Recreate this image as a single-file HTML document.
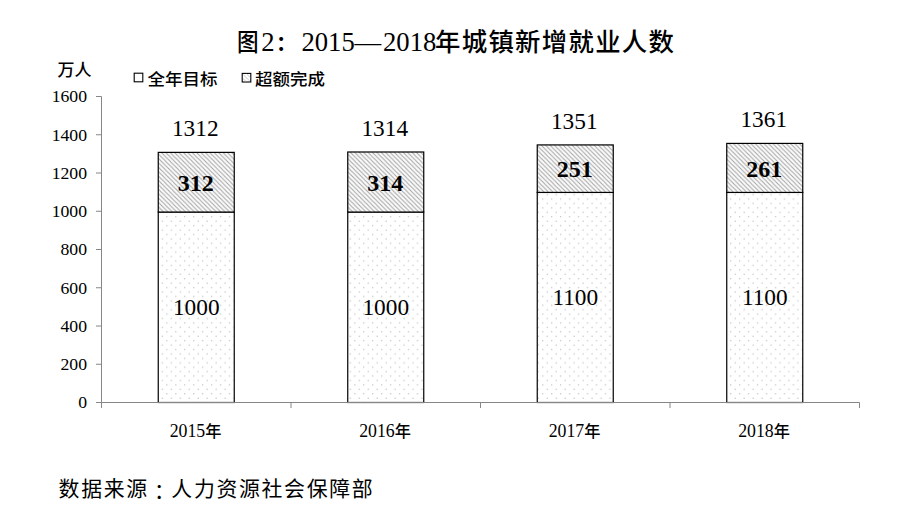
<!DOCTYPE html>
<html lang="zh-CN"><head><meta charset="utf-8"><title>图2：2015—2018年城镇新增就业人数</title>
<style>
html,body{margin:0;padding:0;background:#fff;}
body{width:900px;height:518px;overflow:hidden;position:relative;}
svg{position:absolute;left:0;top:0;display:block;}
text{fill:#000;}
.num{font-family:"Liberation Serif","Noto Sans CJK SC",serif;}
.hei{font-family:"Liberation Sans","Noto Sans CJK SC",sans-serif;}
.tc{font-family:"Liberation Sans","Noto Sans CJK TC",sans-serif;}
.ttl{font-family:"Liberation Serif","Noto Sans CJK SC",sans-serif;}
</style></head><body>
<svg width="900" height="518" viewBox="0 0 900 518">
<defs>
<pattern id="dots" width="8.95" height="8.85" patternUnits="userSpaceOnUse" x="160.2" y="342.9">
<rect width="8.95" height="8.85" fill="#fff"/>
<rect x="1.65" y="1.65" width="1.1" height="1.1" fill="#b4b4b4"/>
<rect x="6.13" y="6.07" width="1.1" height="1.1" fill="#b4b4b4"/>
</pattern>
<pattern id="hatch" width="4.4" height="4.4" patternUnits="userSpaceOnUse">
<rect width="4.4" height="4.4" fill="#fbfbfb"/>
<path d="M-1.1,-1.1 L5.5,5.5 M-1.1,3.3 L1.1,5.5 M3.3,-1.1 L5.5,1.1" stroke="#a4a4a4" stroke-width="1.05" fill="none"/>
</pattern>
</defs>

<text class="ttl" y="50.8" font-size="26.67"><tspan x="237" font-size="24.6" font-weight="500" textLength="21.6" lengthAdjust="spacingAndGlyphs">图</tspan><tspan x="261.3">2</tspan><tspan x="276.1" font-size="20.6" font-weight="700" dy="0.45">：</tspan><tspan x="301.4" dy="-0.45">2015</tspan><tspan x="354.6">—</tspan><tspan x="383">2018</tspan><tspan x="435" font-size="25.4" font-weight="500" letter-spacing="1.3">年城镇新增就业人数</tspan></text>
<text class="hei" x="57.6" y="76.2" font-size="16.6" font-weight="500" textLength="34" lengthAdjust="spacingAndGlyphs">万人</text>
<rect x="134.2" y="73.2" width="8.6" height="8.6" fill="#fff" stroke="#000" stroke-width="1.1"/>
<text class="hei" x="147.6" y="85" font-size="16" font-weight="500" textLength="70" lengthAdjust="spacingAndGlyphs">全年目标</text>
<rect x="242.2" y="73.4" width="8.6" height="8.6" fill="#fff" stroke="#000" stroke-width="1.1"/>
<path d="M243.2,74.6 L249.8,81.0 M243.0,78.6 L246.0,81.4 M246.8,74.2 L250.2,77.4" stroke="#c4c4c4" stroke-width="0.9" fill="none"/>
<text class="hei" x="255.1" y="85" font-size="16" font-weight="500" textLength="70" lengthAdjust="spacingAndGlyphs">超额完成</text>
<rect x="158.25" y="212.05" width="76" height="190.45" fill="url(#dots)" stroke="#000" stroke-width="1.2"/>
<rect x="158.25" y="152.38" width="76" height="59.67" fill="url(#hatch)" stroke="#000" stroke-width="1.2"/>
<text class="num" x="196.25" y="315.17" font-size="23.3" text-anchor="middle">1000</text>
<text class="num" x="195.75" y="190.81" font-size="24" font-weight="700" text-anchor="middle">312</text>
<text class="num" x="195.25" y="136.28" font-size="23.3" text-anchor="middle">1312</text>
<text class="num" x="195.55" y="437" font-size="17.8" text-anchor="middle">2015<tspan class="hei" font-size="16.2" font-weight="500">年</tspan></text>
<rect x="347.75" y="212.05" width="76" height="190.45" fill="url(#dots)" stroke="#000" stroke-width="1.2"/>
<rect x="347.75" y="152.00" width="76" height="60.05" fill="url(#hatch)" stroke="#000" stroke-width="1.2"/>
<text class="num" x="385.75" y="315.17" font-size="23.3" text-anchor="middle">1000</text>
<text class="num" x="385.25" y="190.62" font-size="24" font-weight="700" text-anchor="middle">314</text>
<text class="num" x="384.75" y="135.90" font-size="23.3" text-anchor="middle">1314</text>
<text class="num" x="385.05" y="437" font-size="17.8" text-anchor="middle">2016<tspan class="hei" font-size="16.2" font-weight="500">年</tspan></text>
<rect x="537.25" y="192.43" width="76" height="210.07" fill="url(#dots)" stroke="#000" stroke-width="1.2"/>
<rect x="537.25" y="144.92" width="76" height="47.50" fill="url(#hatch)" stroke="#000" stroke-width="1.2"/>
<text class="num" x="575.25" y="305.36" font-size="23.3" text-anchor="middle">1100</text>
<text class="num" x="574.75" y="177.27" font-size="24" font-weight="700" text-anchor="middle">251</text>
<text class="num" x="574.25" y="128.82" font-size="23.3" text-anchor="middle">1351</text>
<text class="num" x="574.55" y="437" font-size="17.8" text-anchor="middle">2017<tspan class="hei" font-size="16.2" font-weight="500">年</tspan></text>
<rect x="726.75" y="192.43" width="76" height="210.07" fill="url(#dots)" stroke="#000" stroke-width="1.2"/>
<rect x="726.75" y="143.41" width="76" height="49.02" fill="url(#hatch)" stroke="#000" stroke-width="1.2"/>
<text class="num" x="764.75" y="305.36" font-size="23.3" text-anchor="middle">1100</text>
<text class="num" x="764.25" y="176.52" font-size="24" font-weight="700" text-anchor="middle">261</text>
<text class="num" x="763.75" y="127.31" font-size="23.3" text-anchor="middle">1361</text>
<text class="num" x="764.05" y="437" font-size="17.8" text-anchor="middle">2018<tspan class="hei" font-size="16.2" font-weight="500">年</tspan></text>
<g stroke="#868686" stroke-width="1" fill="none">
<path d="M101.5,96.5 V402.5 H859.5"/>
<path d="M96.0,402.50 H101.5"/>
<path d="M96.0,364.25 H101.5"/>
<path d="M96.0,326.00 H101.5"/>
<path d="M96.0,287.75 H101.5"/>
<path d="M96.0,249.50 H101.5"/>
<path d="M96.0,211.25 H101.5"/>
<path d="M96.0,173.00 H101.5"/>
<path d="M96.0,134.75 H101.5"/>
<path d="M96.0,96.50 H101.5"/>
<path d="M101.50,402.5 V408.0"/>
<path d="M291.00,402.5 V408.0"/>
<path d="M480.50,402.5 V408.0"/>
<path d="M670.00,402.5 V408.0"/>
<path d="M859.50,402.5 V408.0"/>
</g>
<text class="num" x="87" y="408.40" font-size="17.7" text-anchor="end">0</text>
<text class="num" x="87" y="370.15" font-size="17.7" text-anchor="end">200</text>
<text class="num" x="87" y="331.90" font-size="17.7" text-anchor="end">400</text>
<text class="num" x="87" y="293.65" font-size="17.7" text-anchor="end">600</text>
<text class="num" x="87" y="255.40" font-size="17.7" text-anchor="end">800</text>
<text class="num" x="87" y="217.15" font-size="17.7" text-anchor="end">1000</text>
<text class="num" x="87" y="178.90" font-size="17.7" text-anchor="end">1200</text>
<text class="num" x="87" y="140.65" font-size="17.7" text-anchor="end">1400</text>
<text class="num" x="87" y="102.40" font-size="17.7" text-anchor="end">1600</text>
<text class="hei" x="58.6" y="495.9" font-size="20.9" font-weight="400" letter-spacing="1.66">数据来源<tspan class="tc" lang="zh-TW" dy="2.6">：</tspan><tspan dy="-2.6">人</tspan>力资源社会保障部</text>
</svg>
</body></html>
